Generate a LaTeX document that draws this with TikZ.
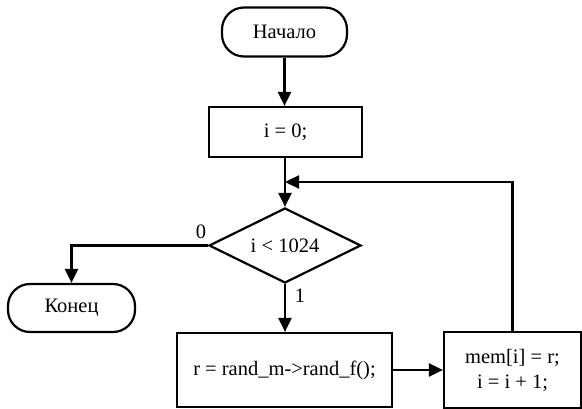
\documentclass[tikz,border=0pt]{standalone}
\usepackage{fontspec}
\newfontfamily\timesfont{Liberation Serif}
\usetikzlibrary{arrows.meta,shapes.geometric}
\begin{document}
\begin{tikzpicture}[x=1pt,y=-1pt,
  every node/.style={font=\timesfont\fontsize{20.5}{25}\selectfont},
  base/.style={draw,line width=2.2pt,inner sep=0pt,align=center},
  terminal/.style={base,rectangle,rounded corners=22pt},
  process/.style={base,rectangle},
  decision/.style={base,diamond,aspect=2},
  flow/.style={line width=2.2pt},
  arr/.style={flow,-{Triangle[length=14pt,width=13pt]}},
  lbl/.style={inner sep=0pt}]
  \useasboundingbox (0,0) rectangle (582,409);
  % blocks
  \node[terminal,minimum width=125pt,minimum height=49pt] (start) at (284.5,32) {Начало};
  \node[process,minimum width=153pt,minimum height=50pt] (init) at (285.5,132) {i = 0;};
  \node[decision,minimum width=152pt,minimum height=75pt] (cond) at (285,245.5) {i < 1024};
  \node[terminal,minimum width=127pt,minimum height=48pt] (end) at (71.5,308) {Конец};
  \node[process,minimum width=215pt,minimum height=74pt] (rand) at (284.5,370) {r = rand\_m->rand\_f();};
  \node[process,minimum width=137pt,minimum height=76pt] (mem) at (512.5,370) {mem[i] = r;\\ i = i + 1;};
  \coordinate (join) at (285,182);
  % connectors
  \draw[arr] (start) -- (start |- init.north);
  \draw[arr] (init.south -| join) -- (join) -- (cond.north);
  \draw[arr] (mem.north) |- (join);
  \draw[arr] (cond.west) -| (end.north);
  \draw[arr] (cond.south) -- (rand.north -| cond.south);
  \draw[arr] (rand.east) -- (mem.west);
  % branch labels
  \node[lbl] (zero) at (201,232) {0};
  \node[lbl] (one) at (300,296) {1};
\end{tikzpicture}
\end{document}
